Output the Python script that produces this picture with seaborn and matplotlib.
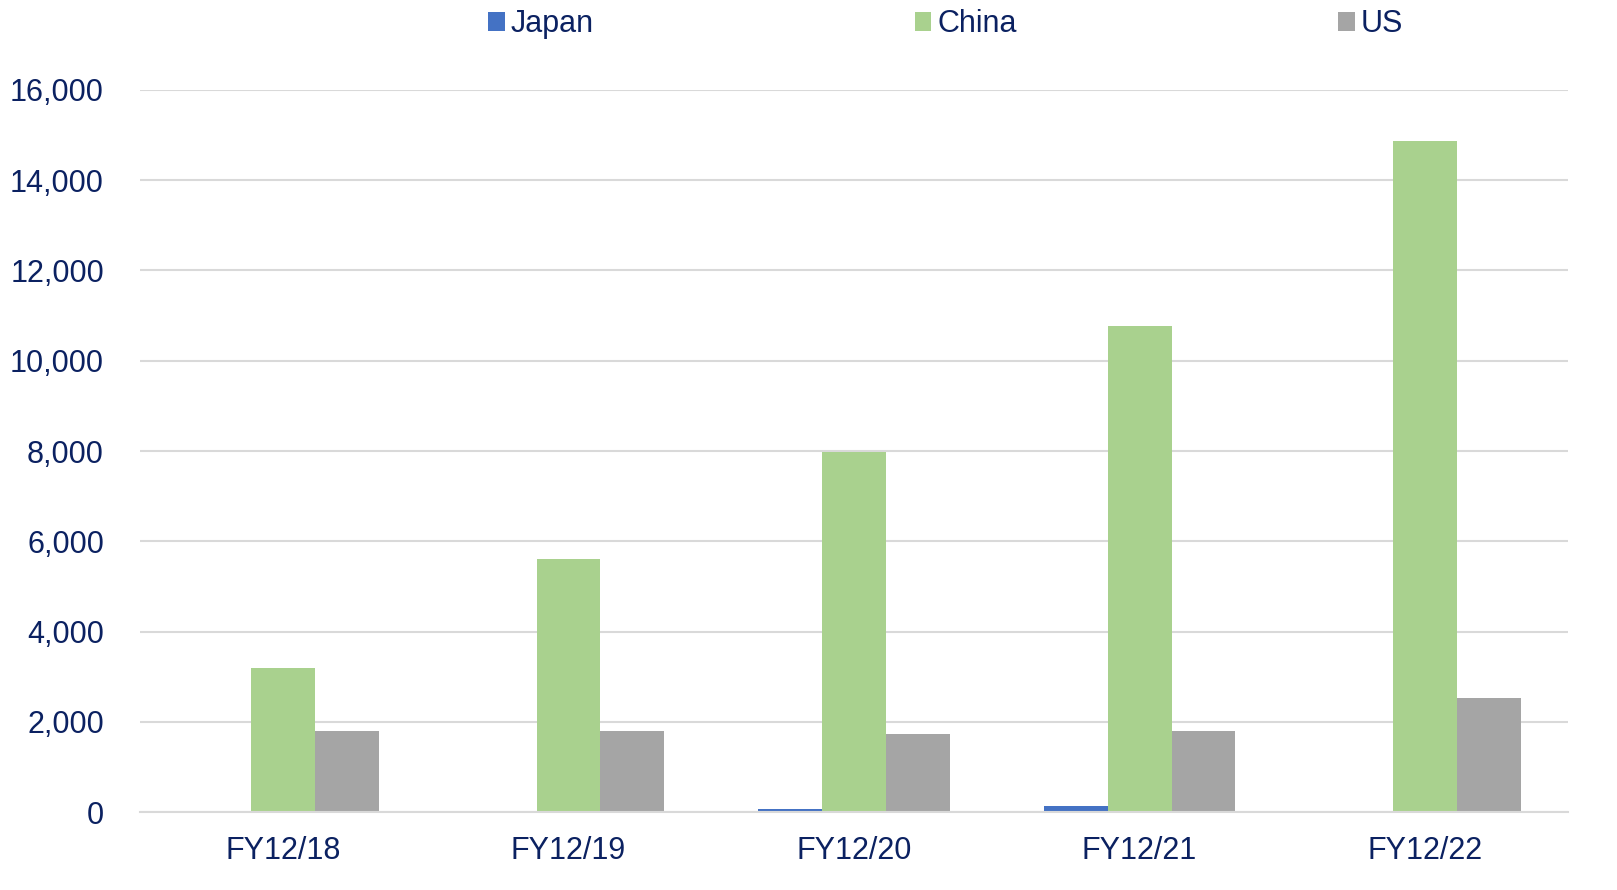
import pandas as pd
import seaborn as sns
import matplotlib.pyplot as plt
from matplotlib.ticker import FuncFormatter

years = ['FY12/18', 'FY12/19', 'FY12/20', 'FY12/21', 'FY12/22']
japan = [0, 30, 60, 130, 20]
china = [3200, 5610, 7980, 10770, 14870]
us = [1800, 1800, 1720, 1800, 2530]

regions = ['Japan', 'China', 'US']
colors = ['#4472c4', '#a9d18e', '#a5a5a5']

df = pd.DataFrame({
    'year': years * 3,
    'region': ['Japan'] * 5 + ['China'] * 5 + ['US'] * 5,
    'value': japan + china + us,
})

sns.set_theme(style='white')
plt.rcParams['font.family'] = ['Liberation Sans', 'DejaVu Sans']
navy = '#0b2161'

fig = plt.figure(figsize=(16.17, 8.9), dpi=100)
ax = fig.add_axes([0.0866, 0.0876, 0.8831, 0.8113])

sns.barplot(data=df, x='year', y='value', hue='region', hue_order=regions,
            palette=colors, width=0.67, saturation=1, ax=ax, linewidth=0)

ax.set_ylim(0, 16000)
ax.set_yticks(range(0, 16001, 2000))
ax.yaxis.set_major_formatter(FuncFormatter(lambda v, p: f'{int(v):,}'))
ax.grid(axis='y', color='#d9d9d9', linewidth=1.5)
ax.set_axisbelow(True)
for s in ['top', 'right', 'left']:
    ax.spines[s].set_visible(False)
ax.spines['bottom'].set_color('#d9d9d9')
ax.spines['bottom'].set_linewidth(1.5)
ax.tick_params(axis='both', labelsize=22, colors=navy, length=0)
ax.tick_params(axis='y', pad=26)
ax.tick_params(axis='x', pad=17)
ax.set_xlabel('')
ax.set_ylabel('')

leg = ax.legend(loc='upper center', bbox_to_anchor=(0.564, 1.15), ncol=3,
                frameon=False, fontsize=22, handlelength=0.55, handleheight=0.55,
                handletextpad=0.2, columnspacing=10.5)
for t in leg.get_texts():
    t.set_color(navy)

fig.savefig('out.png', dpi=100)
